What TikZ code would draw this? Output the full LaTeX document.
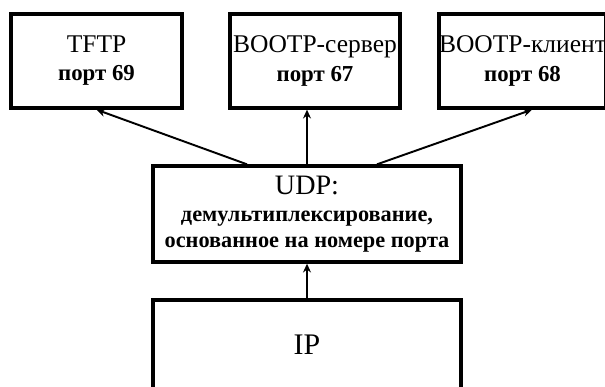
\documentclass[tikz,border=0pt]{standalone}
\usepackage{fontspec}
\setmainfont{Liberation Serif}
\usepackage{tikz}
\usetikzlibrary{arrows.meta}
\tikzstyle{portbox}=[rectangle, draw, line width=1.9pt, minimum width=3.4cm, minimum height=1.88cm, inner sep=0pt, align=center, font=\fontsize{14.5pt}{16pt}\selectfont]
\tikzstyle{layerbox}=[rectangle, draw, line width=1.9pt, minimum width=6.16cm, inner sep=0pt, align=center]
\tikzstyle{conn}=[->, line width=1.1pt]

\begin{document}
\begin{tikzpicture}

\tikzset{>={Stealth[length=5pt, width=4.5pt]}}

\useasboundingbox (0,0) rectangle (12.1,-7.74);
\clip (0,0) rectangle (12.1,-7.74);

% Application boxes
\node[portbox, minimum width=3.42cm] (tftp) at (1.93,-1.22) {TFTP\\ \textbf{\fontsize{13pt}{16pt}\selectfont порт 69}};
\node[portbox] (server) at (6.30,-1.22) {BOOTP-сервер\\ \textbf{\fontsize{13pt}{16pt}\selectfont порт 67}};
\node[portbox, minimum width=3.22cm] (client) at (10.45,-1.22) {BOOTP-клиент\\ \textbf{\fontsize{13pt}{16pt}\selectfont порт 68}};

% UDP and IP
\node[layerbox, minimum height=1.92cm, font=\fontsize{12.7pt}{14.5pt}\selectfont] (udp) at (6.14,-4.28)
  {{\fontsize{16pt}{16pt}\selectfont UDP:}\\[1pt] \textbf{демультиплексирование,}\\ \textbf{основанное на номере порта}};
\node[layerbox, minimum height=1.8cm, font=\fontsize{17pt}{17pt}\selectfont] (ip) at (6.14,-6.90) {IP};

% Arrows
\coordinate (udpL) at ([xshift=-1.2cm]udp.north);
\coordinate (udpR) at ([xshift=1.4cm]udp.north);
\coordinate (clientIn) at ([xshift=0.19cm]client.south);
\draw[conn] (udpL) -- (tftp.south); % UDP -> TFTP
\draw[conn, line width=1.6pt] (udp.north) -- (udp.north |- server.south); % UDP -> BOOTP server
\draw[conn] (udpR) -- (clientIn); % UDP -> BOOTP client
\draw[conn, line width=1.3pt] (ip.north) -- (udp.south); % IP -> UDP

\end{tikzpicture}
\end{document}
